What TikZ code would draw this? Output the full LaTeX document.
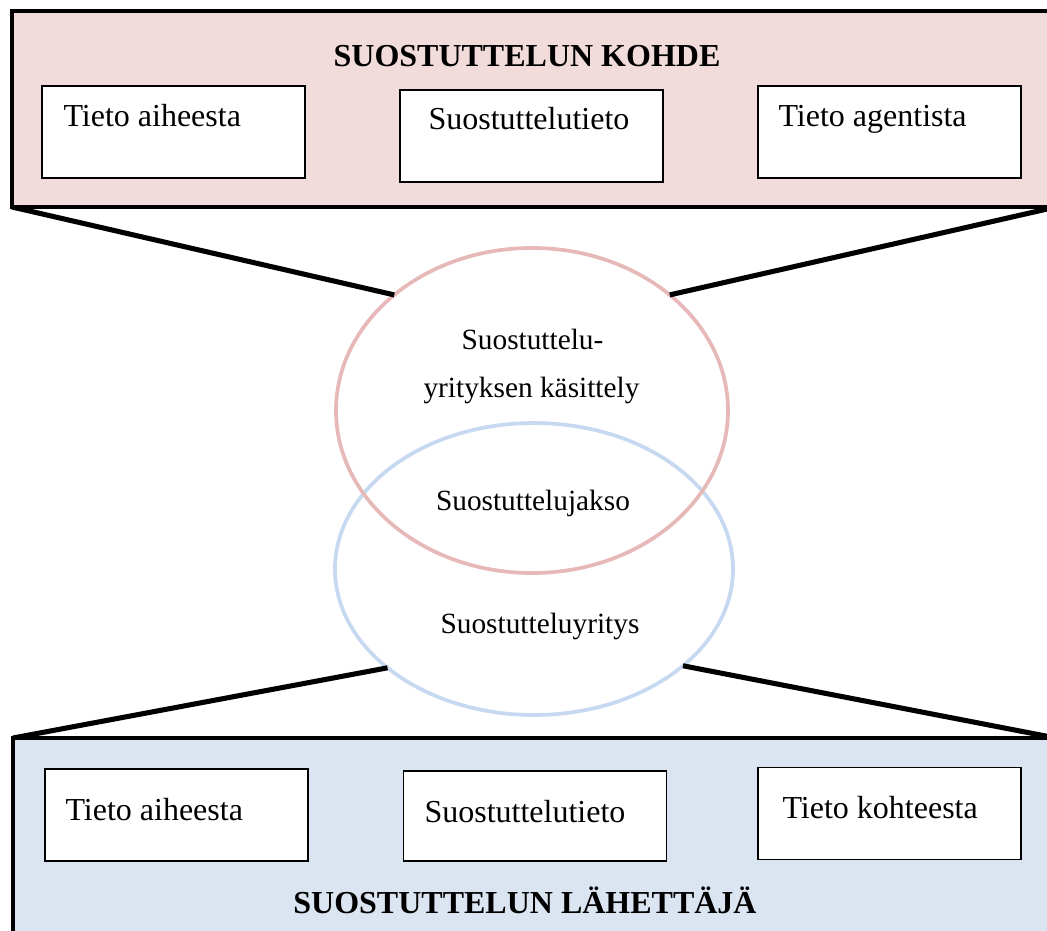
\documentclass[tikz,border=0pt]{standalone}
\usepackage{fontspec}
\setmainfont{Liberation Serif}
\usetikzlibrary{shapes.geometric}

\definecolor{kohdetausta}{HTML}{F2DBDB}
\definecolor{lahettajatausta}{HTML}{DBE5F1}
\definecolor{kasittelyreuna}{HTML}{E6B9B8}
\definecolor{yritysreuna}{HTML}{C6D9F1}

\begin{document}
\begin{tikzpicture}[x=0.375pt, y=-0.375pt]
	\tikzstyle{ulkolaatikko} = [rectangle, draw=black, line width=1.8pt, inner sep=0, outer sep=0]
	\tikzstyle{tietolaatikko} = [rectangle, draw=black, fill=white, line width=0.5pt, minimum width=98.6pt, minimum height=34.5pt, inner sep=0]
	\tikzstyle{piiri} = [ellipse, line width=1.4pt, inner sep=0, outer sep=0]
	\tikzstyle{viiva} = [line width=1.9pt]
	\tikzstyle{teksti} = [inner sep=0, font=\fontsize{12}{14}\selectfont]
	\tikzstyle{piiriteksti} = [inner sep=0, anchor=base, font=\fontsize{11}{13}\selectfont]
	\tikzstyle{otsikko} = [inner sep=0, anchor=base, font=\fontsize{12}{14}\selectfont\bfseries]
	\useasboundingbox (0,0) rectangle (1047,931);
	\clip (0,0) rectangle (1047,931);
	% suostuttelun kohde
	\node [ulkolaatikko, fill=kohdetausta, minimum width=391.5pt, minimum height=73.5pt] (kohde) at (534,109) {};
	\node [otsikko] (kohde-otsikko) at (527,67) {SUOSTUTTELUN KOHDE};
	\node [tietolaatikko] (k-aihe) at (173.5,132) {};
	\node [tietolaatikko] (k-tieto) at (531.5,136) {};
	\node [tietolaatikko] (k-agentti) at (889.5,132) {};
	\node [teksti, anchor=base west] (k-aihe-t) at (63,127) {Tieto aiheesta};
	\node [teksti, anchor=base west] (k-tieto-t) at (428,130) {Suostuttelutieto};
	\node [teksti, anchor=base west] (k-agentti-t) at (778,127) {Tieto agentista};
	% suostuttelun lahettaja
	\node [ulkolaatikko, fill=lahettajatausta, minimum width=391.1pt, minimum height=83.25pt] (lahettaja) at (534.5,849) {};
	\node [otsikko] (lahettaja-otsikko) at (525,913) {SUOSTUTTELUN LÄHETTÄJÄ};
	\node [tietolaatikko] (l-aihe) at (176.5,815) {};
	\node [tietolaatikko, minimum height=33.75pt] (l-tieto) at (535,816) {};
	\node [tietolaatikko] (l-kohde) at (889.5,813.5) {};
	\node [teksti, anchor=base west] (l-aihe-t) at (65,820) {Tieto aiheesta};
	\node [teksti, anchor=base west] (l-tieto-t) at (424,822) {Suostuttelutieto};
	\node [teksti, anchor=base west] (l-kohde-t) at (782,818) {Tieto kohteesta};
	% piirit
	\node [piiri, draw=yritysreuna, minimum width=149.25pt, minimum height=109.5pt] (yritys) at (534,569) {};
	\node [piiri, draw=kasittelyreuna, minimum width=147pt, minimum height=121.9pt] (kasittely) at (532,410.5) {};
	\node [piiriteksti] (kasittely-t1) at (532.5,349) {Suostuttelu-};
	\node [piiriteksti] (kasittely-t2) at (531.5,397) {yrityksen käsittely};
	\node [piiriteksti] (jakso-t) at (533,510) {Suostuttelujakso};
	\node [piiriteksti] (yritys-t) at (540,633) {Suostutteluyritys};
	% viivat
	\draw [viiva] (kohde.south west)--(kasittely.140);
	\draw [viiva] (kohde.south east)--(kasittely.40);
	\draw [viiva] (lahettaja.north west)--(yritys.214);
	\draw [viiva] (lahettaja.north east)--(yritys.327);
\end{tikzpicture}
\end{document}
